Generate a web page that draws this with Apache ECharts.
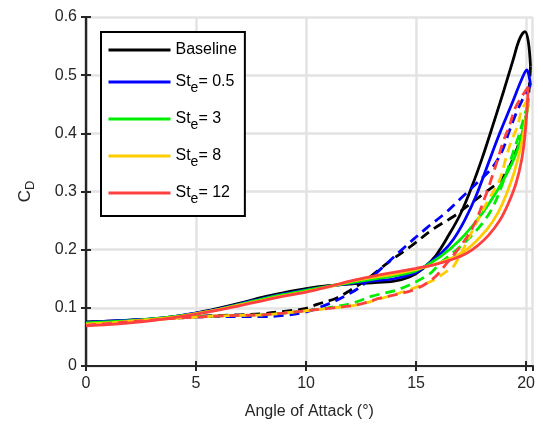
<!DOCTYPE html>
<html>
<head>
<meta charset="utf-8">
<script src="https://cdn.jsdelivr.net/npm/echarts@6/dist/echarts.min.js"></script>
<style>
  html, body { margin: 0; padding: 0; background: #fff; }
  #chart { width: 538px; height: 431px; }
</style>
</head>
<body>
<div id="chart"></div>
<script>
// solid = increasing angle, dashed = decreasing angle
var legendNames = ['Baseline', 'St_e= 0.5', 'St_e= 3', 'St_e= 8', 'St_e= 12'];
var colors = ['#000000', '#0000ff', '#00ee00', '#ffcc00', '#ff4040'];
var xTicks = [0, 5, 10, 15, 20];

var baseUp = [[0,0.076],[1,0.077],[2,0.079],[3,0.081],[4,0.085],[5,0.091],[6,0.099],[7,0.108],[8,0.118],[9,0.126],[10,0.133],[11,0.138],[12,0.141],[13,0.143],[14,0.146],[14.7,0.153],[15.3,0.167],[15.9,0.19],[16.5,0.226],[17,0.26],[17.5,0.305],[18,0.357],[18.5,0.415],[19,0.475],[19.4,0.525],[19.7,0.562],[19.95,0.575],[20.1,0.558],[20.2,0.515]];
var baseDown = [[20.2,0.515],[20.1,0.46],[19.9,0.41],[19.6,0.375],[19.2,0.34],[18.8,0.318],[18.2,0.3],[17.5,0.28],[16.7,0.257],[15.8,0.236],[14.8,0.207],[13.7,0.177],[12.8,0.15],[12,0.13],[11.4,0.117],[10.5,0.106],[10,0.099],[9,0.094],[8,0.09],[7,0.088],[6,0.087],[5,0.085],[4,0.083],[3,0.08],[2,0.077],[1,0.074],[0,0.071]];

var st05Up = [[0,0.075],[1,0.077],[2,0.079],[3,0.081],[4,0.085],[5,0.091],[6,0.098],[7,0.107],[8,0.116],[9,0.124],[10,0.131],[11,0.137],[12,0.142],[13,0.146],[14,0.15],[15,0.161],[15.5,0.174],[16.2,0.196],[16.7,0.218],[17.2,0.25],[17.7,0.29],[18.2,0.34],[18.8,0.4],[19.4,0.455],[19.8,0.493],[20.03,0.509],[20.2,0.483]];
var st05Down = [[20.2,0.483],[19.9,0.463],[19.5,0.43],[19.2,0.4],[18.95,0.373],[18.5,0.343],[17.75,0.314],[17,0.287],[16.3,0.262],[15.5,0.238],[14.5,0.205],[13.4,0.167],[12.5,0.137],[12,0.125],[11.1,0.108],[10,0.093],[9,0.087],[8,0.085],[7,0.085],[6,0.085],[5,0.084],[4,0.082],[3,0.08],[2,0.077],[1,0.074],[0,0.071]];

var st3Up = [[0,0.074],[1,0.076],[2,0.078],[3,0.081],[4,0.085],[5,0.09],[6,0.097],[7,0.106],[8,0.115],[9,0.123],[10,0.13],[11,0.137],[12,0.143],[13,0.149],[14,0.155],[15,0.164],[16.1,0.188],[17,0.217],[17.9,0.257],[18.5,0.29],[19,0.322],[19.4,0.352],[19.7,0.383],[19.95,0.42],[20.1,0.45]];
var st3Down = [[20.1,0.45],[19.95,0.434],[19.7,0.4],[19.4,0.366],[19.1,0.331],[18.5,0.274],[17.9,0.24],[17,0.205],[16.1,0.177],[15.6,0.158],[14.3,0.133],[13,0.12],[12.1,0.108],[11,0.1],[10,0.095],[9,0.091],[8,0.088],[7,0.087],[6,0.086],[5,0.085],[4,0.083],[3,0.08],[2,0.077],[1,0.074],[0,0.071]];

var st8Up = [[0,0.072],[1,0.074],[2,0.077],[3,0.08],[4,0.084],[5,0.09],[6,0.097],[7,0.105],[8,0.113],[9,0.121],[10,0.128],[11,0.136],[12,0.145],[13,0.152],[14,0.158],[15,0.166],[16.4,0.182],[17.3,0.2],[18.2,0.234],[18.7,0.262],[19.1,0.295],[19.45,0.332],[19.75,0.375],[19.95,0.415],[20.1,0.46]];
var st8Down = [[20.1,0.46],[19.8,0.44],[19.6,0.411],[19.35,0.389],[19.1,0.36],[18.8,0.32],[18.2,0.28],[17.6,0.235],[16.7,0.171],[16.4,0.163],[15.8,0.148],[14.6,0.13],[13.4,0.116],[12.3,0.105],[11,0.099],[10,0.095],[9,0.091],[8,0.088],[7,0.087],[6,0.086],[5,0.084],[4,0.082],[3,0.079],[2,0.076],[1,0.073],[0,0.07]];

var st12Up = [[0,0.069],[1,0.071],[2,0.074],[3,0.078],[4,0.083],[5,0.089],[6,0.096],[7,0.104],[8,0.112],[9,0.12],[10,0.127],[11,0.136],[12,0.146],[13,0.154],[14,0.161],[15,0.168],[15.8,0.174],[16.7,0.184],[17.3,0.194],[17.8,0.207],[18.3,0.225],[18.8,0.25],[19.2,0.28],[19.55,0.315],[19.8,0.355],[19.97,0.405],[20.1,0.48]];
var st12Down = [[20.1,0.48],[19.8,0.463],[19.5,0.443],[19.25,0.414],[18.97,0.387],[18.7,0.354],[18.45,0.325],[18.2,0.297],[17.6,0.24],[17,0.205],[16.4,0.177],[15.8,0.151],[14.9,0.131],[13.4,0.117],[12.3,0.105],[11,0.099],[10,0.095],[9,0.091],[8,0.088],[7,0.087],[6,0.086],[5,0.084],[4,0.082],[3,0.079],[2,0.076],[1,0.073],[0,0.07]];

var upData = [baseUp, st05Up, st3Up, st8Up, st12Up];
var downData = [baseDown, st05Down, st3Down, st8Down, st12Down];

var axisColor = '#262626';
var font = 'Liberation Sans, Arial, Helvetica, sans-serif';

var series = [];
for (var i = 0; i < 5; i++) {
    series.push({
        name: legendNames[i] + ' down',
        type: 'line',
        data: downData[i],
        smooth: 0.35,
        symbol: 'none',
        z: 2 + i * 2,
        lineStyle: { color: colors[i], width: 2.8, type: [10, 6] }
    });
    series.push({
        name: legendNames[i],
        type: 'line',
        data: upData[i],
        smooth: 0.35,
        symbol: 'none',
        z: 3 + i * 2,
        itemStyle: { color: colors[i] },
        lineStyle: { color: colors[i], width: 2.8 }
    });
}

var myChart = echarts.init(document.getElementById('chart'));
var option = {
    backgroundColor: '#fff',
    animation: false,
    textStyle: { fontFamily: font },
    grid: { left: 86, top: 17, right: 5, bottom: 65 },
    legend: {
        data: legendNames,
        orient: 'vertical',
        left: 101, top: 32,
        padding: [10, 8, 10, 6],
        itemGap: 16,
        itemWidth: 62,
        itemHeight: 14,
        backgroundColor: '#fff',
        borderColor: '#000',
        borderWidth: 2,
        borderRadius: 0,
        itemStyle: { opacity: 0 },
        lineStyle: { width: 3 },
        formatter: function (name) {
            if (name === 'Baseline') return name;
            return 'St{sub|e}= ' + name.split('= ')[1];
        },
        textStyle: {
            fontFamily: font, fontSize: 16, color: '#000',
            rich: {
                sub: { fontSize: 14, fontFamily: font, color: '#000', verticalAlign: 'top', padding: [12, 0, 0, 0] }
            }
        }
    },
    xAxis: [{
        type: 'value', min: 0, max: 20.3, interval: 5,
        name: 'Angle of Attack (°)', nameLocation: 'middle', nameGap: 38,
        nameTextStyle: { fontFamily: font, fontSize: 16, color: axisColor },
        axisLine: { lineStyle: { color: axisColor, width: 2.2 } },
        axisTick: { inside: true, length: 5, lineStyle: { color: axisColor, width: 2 } },
        axisLabel: { fontFamily: font, fontSize: 16, color: axisColor, margin: 10, showMaxLabel: false,
            formatter: function (v) { return xTicks.indexOf(v) >= 0 ? String(v) : ''; } },
        splitLine: { show: true, lineStyle: { color: '#e3e3e3', width: 2.5 } }
    }, {
        type: 'value', min: 0, max: 20.3, interval: 5, position: 'top',
        axisLine: { lineStyle: { color: axisColor, width: 2.2 } },
        axisTick: { inside: true, length: 5, lineStyle: { color: axisColor, width: 2 } },
        axisLabel: { show: false },
        splitLine: { show: false }
    }],
    yAxis: [{
        type: 'value', min: 0, max: 0.6, interval: 0.1,
        name: 'C{sub|D}', nameLocation: 'middle', nameGap: 49, nameRotate: 90,
        nameTextStyle: { fontFamily: font, fontSize: 17, color: axisColor,
            rich: { sub: { fontSize: 13, color: axisColor, fontFamily: font, verticalAlign: 'top', padding: [10, 0, 0, 0] } } },
        axisLine: { lineStyle: { color: axisColor, width: 2.2 } },
        axisTick: { inside: true, length: 5, lineStyle: { color: axisColor, width: 2 } },
        axisLabel: { fontFamily: font, fontSize: 16, color: axisColor, margin: 9 },
        splitLine: { show: true, lineStyle: { color: '#e3e3e3', width: 2.5 } }
    }, {
        type: 'value', min: 0, max: 0.6, interval: 0.1, position: 'right',
        axisLine: { show: true, lineStyle: { color: axisColor, width: 2.2 } },
        axisTick: { inside: true, length: 5, lineStyle: { color: axisColor, width: 2 } },
        axisLabel: { show: false },
        splitLine: { show: false }
    }],
    series: series
};
myChart.setOption(option);
</script>
</body>
</html>
